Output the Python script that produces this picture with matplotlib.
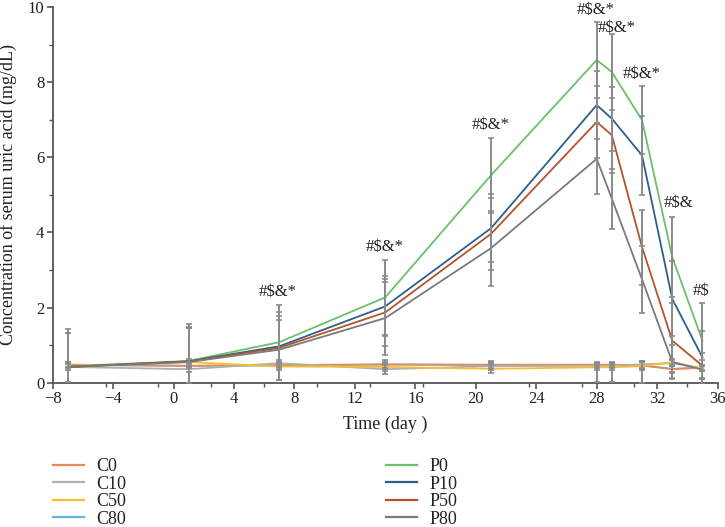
import matplotlib
matplotlib.use("Agg")
import matplotlib.pyplot as plt
from matplotlib.ticker import MultipleLocator, FixedLocator
from matplotlib.lines import Line2D

days = [-7, 1, 7, 14, 21, 28, 29, 31, 33, 35]

C0 = [0.48, 0.45, 0.47, 0.49, 0.48, 0.48, 0.48, 0.46, 0.36, 0.40]
C10 = [0.42, 0.36, 0.52, 0.36, 0.44, 0.45, 0.45, 0.49, 0.52, 0.38]
C50 = [0.45, 0.55, 0.43, 0.42, 0.37, 0.41, 0.41, 0.44, 0.55, 0.37]
C80 = [0.47, 0.45, 0.46, 0.48, 0.47, 0.47, 0.47, 0.46, 0.37, 0.40]

P0 = [0.43, 0.58, 1.08, 2.27, 5.52, 8.59, 8.27, 6.99, 3.34, 1.12]
P10 = [0.42, 0.57, 0.97, 2.03, 4.11, 7.39, 7.03, 6.05, 2.23, 0.67]
P50 = [0.42, 0.56, 0.93, 1.87, 3.96, 6.94, 6.59, 3.61, 1.12, 0.45]
P80 = [0.42, 0.55, 0.88, 1.72, 3.58, 5.96, 4.90, 2.75, 0.55, 0.35]

C_err = [0.07, 0.07, 0.08, 0.12, 0.10, 0.07, 0.07, 0.10, 0.08, 0.07]
C80_err_lo = [0.45, 0.45, 0.40, 0.10, 0.10, 0.46, 0.46, 0.46, 0.10, 0.10]
C80_err_hi = [0.07, 0.07, 0.08, 0.05, 0.05, 0.06, 0.06, 0.12, 0.07, 0.07]

P0_err = [1.00, 0.97, 1.00, 1.00, 1.00, 1.00, 1.00, 0.90, 1.07, 1.00]
P10_err = [0.90, 0.90, 0.90, 0.80, 0.90, 0.90, 0.85, 1.05, 1.00, 0.70]
P50_err = [0.90, 0.90, 0.85, 0.90, 0.95, 0.95, 1.00, 1.00, 1.00, 0.35]
P80_err = [0.90, 0.90, 0.80, 0.97, 1.00, 0.95, 0.80, 0.90, 0.45, 0.25]

labels = ["C0", "C10", "C50", "C80", "P0", "P10", "P50", "P80"]
colors = ["#EA8A5B", "#AFAFAF", "#F2C131", "#5BB4E2",
          "#6CC06C", "#2E5E8E", "#B5532A", "#7A7A7A"]

ann_x = [6.9, 14.0, 21.0, 27.9, 29.3, 31.0, 33.4, 34.9]
ann_y = [2.42, 3.6, 6.85, 9.93, 9.43, 8.23, 4.77, 2.43]
ann_t = ["#$&*", "#$&*", "#$&*", "#$&*", "#$&*", "#$&*", "#$&", "#$"]

plt.rcParams['font.family'] = ['Liberation Serif', 'DejaVu Serif']

fig = plt.figure(figsize=(7.25, 5.27), dpi=100)
ax = fig.add_axes([0.0727, 0.2738, 0.9171, 0.7129])

series = [C0, C10, C50, C80, P0, P10, P50, P80]
errs = [C_err, C_err, C_err, (C80_err_lo, C80_err_hi),
        P0_err, P10_err, P50_err, P80_err]
zord = [3, 4, 5, 2, 6, 7, 8, 9]
ebar_color = "#8A8A8A"
for s, e, c, z in zip(series, errs, colors, zord):
    if isinstance(e, tuple):
        yerr = [e[0], e[1]]
    else:
        yerr = e
    ax.errorbar(days, s, yerr=yerr, fmt='none', ecolor=ebar_color,
                elinewidth=1.4, capsize=2.5, capthick=1.2, zorder=10)
    ax.plot(days, s, color=c, lw=1.3, zorder=z)

for x, y, t in zip(ann_x, ann_y, ann_t):
    ax.text(x, y, t, ha='center', va='center', fontsize=12, color='#222222')

ax.set_xlim(-8, 36)
ax.set_ylim(0, 10)
ax.xaxis.set_major_locator(MultipleLocator(4))
ax.xaxis.set_minor_locator(FixedLocator([-8 + 3.5 * k for k in range(13)]))
ax.yaxis.set_major_locator(MultipleLocator(2))
ax.yaxis.set_minor_locator(MultipleLocator(1))
ax.set_xticks(range(-8, 37, 4))
ax.set_xticklabels([("\u2212" + str(-v)) if v < 0 else str(v) for v in range(-8, 37, 4)])

for sp in ['top', 'right']:
    ax.spines[sp].set_visible(False)
for sp in ['left', 'bottom']:
    ax.spines[sp].set_color('#555555')
    ax.spines[sp].set_linewidth(1.3)
ax.tick_params(which='major', direction='out', length=4, width=1.2,
               color='#555555', labelsize=12, pad=2, labelcolor='#222222')
ax.tick_params(which='minor', direction='out', length=3, width=1.0, color='#555555')

ax.set_xlabel("Time (day )", fontsize=13, color='#222222', labelpad=6)
ax.set_ylabel("Concentration of serum uric acid (mg/dL)", fontsize=13,
              color='#222222', labelpad=8)

handles = [Line2D([], [], color=c, lw=1.6) for c in colors]
leg_kw = dict(loc='upper left', frameon=False, fontsize=13, handlelength=1.7,
              handletextpad=0.7, labelspacing=0.03, borderpad=0, borderaxespad=0)
leg1 = fig.legend(handles[:4], labels[:4],
                  bbox_to_anchor=(53 / 725, 1 - 458 / 527), **leg_kw)
leg2 = fig.legend(handles[4:], labels[4:],
                  bbox_to_anchor=(386 / 725, 1 - 458 / 527), **leg_kw)
for lg in (leg1, leg2):
    for t in lg.get_texts():
        t.set_color('#222222')

fig.savefig("out.png", dpi=100)
